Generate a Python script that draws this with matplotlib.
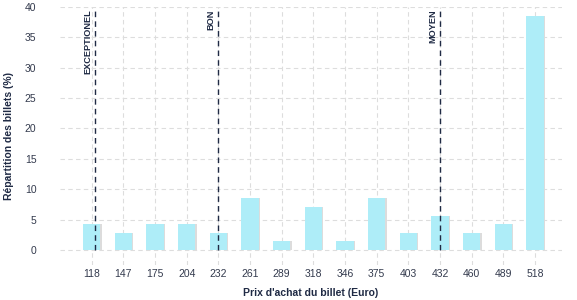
import matplotlib
matplotlib.use("Agg")
import matplotlib.pyplot as plt
import numpy as np

# Données
prix = ["118", "147", "175", "204", "232", "261", "289", "318",
        "346", "375", "403", "432", "460", "489", "518"]
repartition = [4.2, 2.8, 4.2, 4.2, 2.8, 8.5, 1.4, 7.0,
               1.4, 8.5, 2.8, 5.6, 2.8, 4.2, 38.5]
seuils_labels = ["EXCEPTIONEL", "BON", "MOYEN"]
seuils_pos = [0.12, 4.0, 11.0]

texte = "#1f2a44"
plt.rcParams["font.family"] = ["Liberation Sans", "DejaVu Sans"]

fig = plt.figure(figsize=(5.77, 3.0), dpi=100)
ax = fig.add_axes([0.104, 0.116, 0.87, 0.861])

x = np.arange(len(prix))
# ombre légère à droite des barres
ax.bar(x + 0.04, repartition, width=0.55, color="#dcdcdc", zorder=2)
ax.bar(x, repartition, width=0.55, color="#aeedf8", zorder=3)

for pos, lab in zip(seuils_pos, seuils_labels):
    ax.plot([pos, pos], [0, 40], color=texte, lw=1.0, ls=(0, (4, 3)), zorder=4)
    ax.text(pos - 0.1, 39.6, lab, rotation=90, ha="right", va="top",
            fontsize=6.6, fontweight="bold", color=texte)

ax.set_xlim(-1.0, 14.85)
ax.set_ylim(-2.5, 40)
ax.set_xticks(x)
ax.set_xticklabels(prix)
ax.set_yticks(range(0, 41, 5))
ax.grid(True, color="#dddddd", ls=(0, (4, 3)), lw=0.8, zorder=0)
for s in ax.spines.values():
    s.set_visible(False)
ax.tick_params(length=0, labelsize=7.5, colors="#333a4d", pad=3)
ax.tick_params(axis="y", pad=17)

ax.set_xlabel("Prix d'achat du billet (Euro)", fontsize=7.5, fontweight="bold",
              color=texte, labelpad=6)
ax.set_ylabel("Répartition des billets (%)", fontsize=7.5, fontweight="bold",
              color=texte, labelpad=8)

fig.savefig("out.png", dpi=100)
